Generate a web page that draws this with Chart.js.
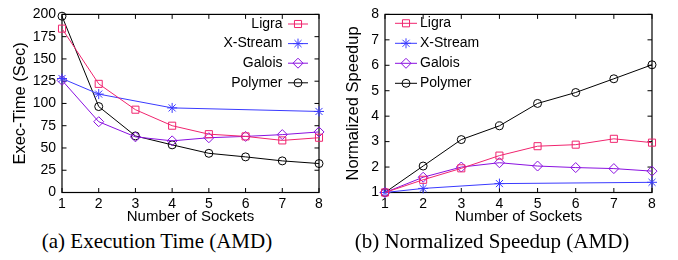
<!DOCTYPE html>
<html>
<head>
<meta charset="utf-8">
<script src="https://cdn.jsdelivr.net/npm/chart.js@4"></script>
<style>
  body { margin: 0; background: #fff; }
  #wrap { position: relative; width: 678px; height: 260px; overflow: hidden; }
  canvas { position: absolute; top: 0; }
  .cap { position: absolute; top: 229px; font: 21px "Liberation Serif", "Times New Roman", serif; color: #000; white-space: nowrap; transform: translateX(-50%); }
</style>
</head>
<body>
<div id="wrap">
  <canvas id="timeChart" width="339" height="228" style="left:0"></canvas>
  <canvas id="speedChart" width="340" height="228" style="left:338px"></canvas>
  <div class="cap" style="left:157px">(a) Execution Time (AMD)</div>
  <div class="cap" style="left:492px">(b) Normalized Speedup (AMD)</div>
</div>
<script>
/* ── data ── */
const sockets   = [1, 2, 3, 4, 5, 6, 7, 8];
const xsSockets = [1, 2, 4, 8];

const ligraTime   = [184, 122, 93, 75, 65.5, 63, 58.5, 61.5];
const xstreamTime = [128, 110.5, 95, 91];
const galoisTime  = [126, 79.5, 62.5, 58, 61.5, 63, 65, 68];
const polymerTime = [198, 96.5, 63.5, 53.5, 44, 40, 35.5, 32.5];

const ligraSpeed   = [1, 1.5, 1.95, 2.45, 2.82, 2.88, 3.11, 2.96];
const xstreamSpeed = [1, 1.16, 1.35, 1.4];
const galoisSpeed  = [1, 1.6, 2.0, 2.17, 2.04, 1.98, 1.94, 1.84];
const polymerSpeed = [1, 2.04, 3.08, 3.62, 4.5, 4.93, 5.47, 6.02];

const labels = ['Ligra', 'X-Stream', 'Galois', 'Polymer'];

const SANS = '"Liberation Sans", Arial, Helvetica, sans-serif';
const styles = [
  { color: '#f0246e', pointStyle: 'rect',    radius: 5 },
  { color: '#3a3aff', pointStyle: 'star',    radius: 5 },
  { color: '#8a10e0', pointStyle: 'rectRot', radius: 5 },
  { color: '#000000', pointStyle: 'circle',  radius: 4 },
];

const pts = (xs, ys) => xs.map((x, i) => ({ x, y: ys[i] }));

function makeSets(series) {
  return series.map((s, i) => ({
    label: labels[i],
    data: s,
    borderColor: styles[i].color,
    backgroundColor: 'rgba(0,0,0,0)',
    borderWidth: 1,
    pointStyle: styles[i].pointStyle,
    pointRadius: styles[i].radius,
    pointBorderWidth: 1,
    pointBorderColor: styles[i].color,
    pointBackgroundColor: 'rgba(0,0,0,0)',
    tension: 0,
    clip: false,
  }));
}

/* gnuplot-like frame with inward ticks on all sides */
const framePlugin = {
  id: 'frame',
  beforeDatasetsDraw(chart) {
    const { ctx, chartArea: a, scales } = chart;
    const L = 4.5;
    ctx.save();
    ctx.strokeStyle = '#000';
    ctx.lineWidth = 1.2;
    ctx.strokeRect(a.left, a.top, a.right - a.left, a.bottom - a.top);
    ctx.lineWidth = 1;
    ctx.beginPath();
    scales.x.ticks.forEach(t => {
      const px = scales.x.getPixelForValue(t.value);
      ctx.moveTo(px, a.bottom); ctx.lineTo(px, a.bottom - L);
      ctx.moveTo(px, a.top);    ctx.lineTo(px, a.top + L);
    });
    scales.y.ticks.forEach(t => {
      const py = scales.y.getPixelForValue(t.value);
      ctx.moveTo(a.left, py);  ctx.lineTo(a.left + L, py);
      ctx.moveTo(a.right, py); ctx.lineTo(a.right - L, py);
    });
    ctx.stroke();
    ctx.restore();
  },
};

/* legend drawn inside the plot like gnuplot's key */
const keyPlugin = {
  id: 'key',
  afterDraw(chart, args, opts) {
    const ctx = chart.ctx;
    ctx.save();
    ctx.font = '14px ' + SANS;
    ctx.textBaseline = 'middle';
    chart.data.datasets.forEach((ds, i) => {
      const y = opts.y + i * opts.step;
      ctx.strokeStyle = ds.borderColor;
      ctx.lineWidth = 1;
      ctx.beginPath();
      ctx.moveTo(opts.lineX0, y); ctx.lineTo(opts.lineX1, y);
      ctx.stroke();
      ctx.fillStyle = 'rgba(0,0,0,0)';
      Chart.helpers.drawPoint(ctx, {
        pointStyle: ds.pointStyle, radius: ds.pointRadius, rotation: 0, borderWidth: 1,
      }, (opts.lineX0 + opts.lineX1) / 2, y);
      ctx.fillStyle = '#000';
      ctx.textAlign = opts.textRight ? 'right' : 'left';
      ctx.fillText(ds.label, opts.textX, y);
    });
    ctx.restore();
  },
};

function scalesFor(yMin, yMax, yStep, yTitle, yWidth, yTitlePad) {
  return {
    x: {
      type: 'linear', min: 1, max: 8,
      ticks: { stepSize: 1, padding: 3, color: '#000', font: { family: SANS, size: 14 } },
      grid: { display: false, drawTicks: false },
      border: { display: false },
      title: { display: true, text: 'Number of Sockets', color: '#000',
               font: { family: SANS, size: 15 }, padding: { top: 0, bottom: 2 } },
      afterFit: s => { s.height = 35.5; },
    },
    y: {
      min: yMin, max: yMax,
      ticks: { stepSize: yStep, padding: 6, color: '#000', font: { family: SANS, size: 14 } },
      grid: { display: false, drawTicks: false },
      border: { display: false },
      title: { display: true, text: yTitle, color: '#000',
               font: { family: SANS, size: 16.5 }, padding: { top: yTitlePad, bottom: 0 } },
      afterFit: s => { s.width = yWidth; },
    },
  };
}

const common = {
  responsive: false,
  animation: false,
  events: [],
  plugins: { legend: { display: false }, tooltip: { enabled: false } },
};

new Chart(document.getElementById('timeChart'), {
  type: 'line',
  data: {
    datasets: makeSets([
      pts(sockets, ligraTime),
      pts(xsSockets, xstreamTime),
      pts(sockets, galoisTime),
      pts(sockets, polymerTime),
    ]),
  },
  options: {
    ...common,
    layout: { padding: { left: 0, right: 20, top: 8, bottom: 0 } },
    scales: scalesFor(0, 200, 25, 'Exec-Time (Sec)', 62, 11),
    plugins: {
      ...common.plugins,
      key: { y: 24, step: 19.6, lineX0: 288, lineX1: 308, textX: 282.5, textRight: true },
    },
  },
  plugins: [framePlugin, keyPlugin],
});

new Chart(document.getElementById('speedChart'), {
  type: 'line',
  data: {
    datasets: makeSets([
      pts(sockets, ligraSpeed),
      pts(xsSockets, xstreamSpeed),
      pts(sockets, galoisSpeed),
      pts(sockets, polymerSpeed),
    ]),
  },
  options: {
    ...common,
    layout: { padding: { left: 0, right: 26, top: 6.7, bottom: 0 } },
    scales: scalesFor(1, 8, 1, 'Normalized Speedup', 47, 6),
    plugins: {
      ...common.plugins,
      key: { y: 23.3, step: 20, lineX0: 57, lineX1: 79, textX: 82, textRight: false },
    },
  },
  plugins: [framePlugin, keyPlugin],
});
</script>
</body>
</html>
